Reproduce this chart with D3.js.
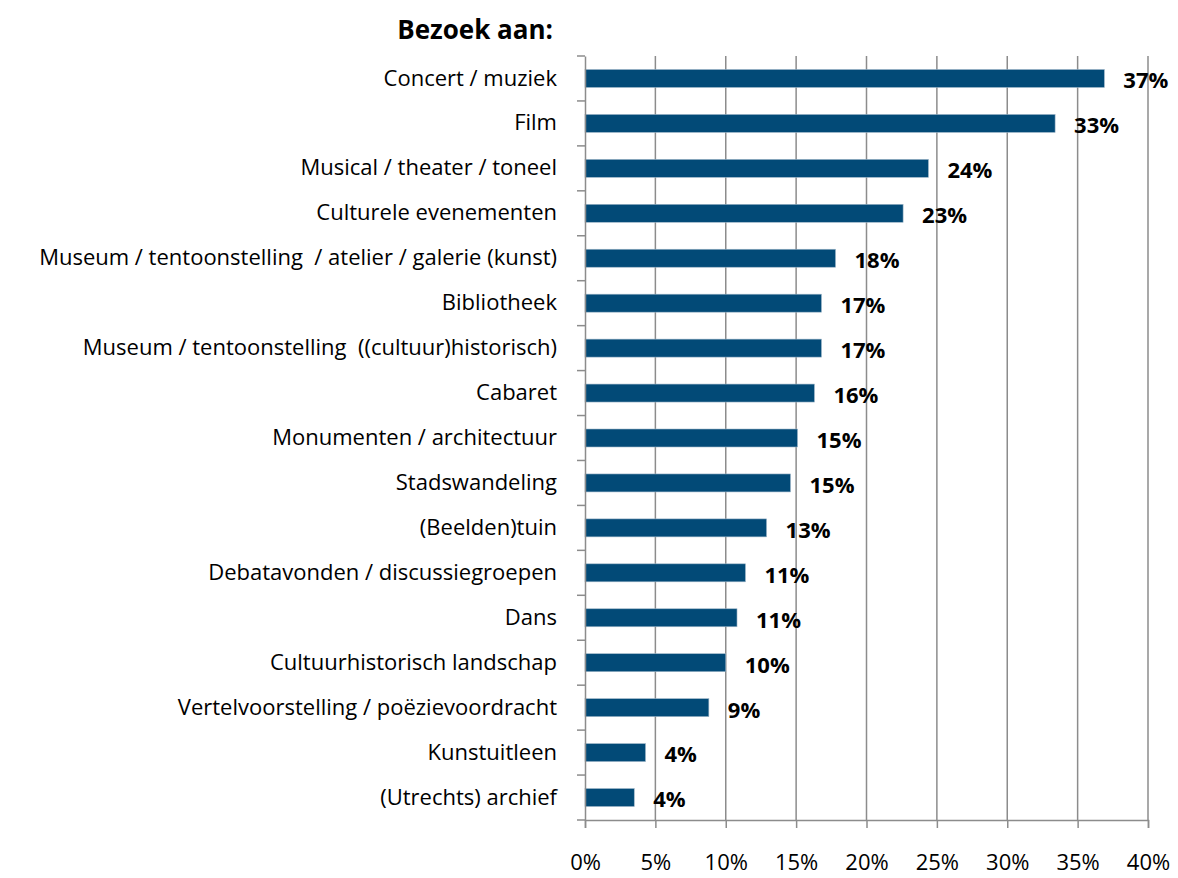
<!DOCTYPE html>
<html>
<head>
<meta charset="utf-8">
<script src="https://d3js.org/d3.v7.min.js"></script>
<style>
  body { margin: 0; background: #fff; }
  text { font-family: "Open Sans", "Noto Sans", sans-serif; }
</style>
</head>
<body>
<div id="chart"></div>
<script>
var categories = ["Concert / muziek", "Film", "Musical / theater / toneel", "Culturele evenementen",
  "Museum / tentoonstelling  / atelier / galerie (kunst)", "Bibliotheek",
  "Museum / tentoonstelling  ((cultuur)historisch)", "Cabaret", "Monumenten / architectuur",
  "Stadswandeling", "(Beelden)tuin", "Debatavonden / discussiegroepen", "Dans",
  "Cultuurhistorisch landschap", "Vertelvoorstelling / poëzievoordracht", "Kunstuitleen",
  "(Utrechts) archief"]
var values = [36.9, 33.4, 24.4, 22.6, 17.8, 16.8, 16.8, 16.3, 15.1, 14.6, 12.9, 11.4, 10.8, 10.0, 8.8, 4.3, 3.5]
var labels = ["37%", "33%", "24%", "23%", "18%", "17%", "17%", "16%", "15%", "15%", "13%", "11%", "11%", "10%", "9%", "4%", "4%"]
var tickValues = [0, 5, 10, 15, 20, 25, 30, 35, 40]

var width = 1178, height = 878
var plotLeft = 585, plotRight = 1148, plotTop = 56, plotBottom = 820

var svg = d3.select("#chart").append("svg")
            .attr("width", width)
            .attr("height", height)

var x = d3.scaleLinear().domain([0, 40]).range([plotLeft, plotRight])
var y = d3.scaleBand().domain(categories).range([plotTop, plotBottom]).paddingInner(0.6).paddingOuter(0.3)

// vertical grid lines
svg.append("g").selectAll("line")
   .data(tickValues.slice(1))
   .join("line")
   .attr("x1", d => x(d)).attr("x2", d => x(d))
   .attr("y1", plotTop).attr("y2", plotBottom)
   .attr("stroke", "#8c8c8c")
   .attr("stroke-width", 1.5)

// bars
svg.append("g").selectAll("rect")
   .data(values)
   .join("rect")
   .attr("x", x(0))
   .attr("y", (d, i) => y(categories[i]))
   .attr("width", d => x(d) - x(0))
   .attr("height", y.bandwidth())
   .attr("fill", "#024a77")
   .attr("stroke", "#9fb6c8")
   .attr("stroke-width", 0.6)

// value labels
svg.append("g").selectAll("text")
   .data(values)
   .join("text")
   .attr("x", d => x(d) + 19)
   .attr("y", (d, i) => y(categories[i]) + y.bandwidth() / 2 + 4)
   .attr("dominant-baseline", "middle")
   .attr("font-size", "22px")
   .attr("font-weight", "bold")
   .attr("fill", "#000")
   .text((d, i) => labels[i])

// x axis
var xAxis = svg.append("g")
   .attr("transform", "translate(0," + plotBottom + ")")
   .call(d3.axisBottom(x).tickValues(tickValues).tickSize(8).tickFormat(d => d + "%"))
xAxis.select(".domain").attr("stroke", "#8c8c8c").attr("stroke-width", 1.5)
xAxis.selectAll(".tick line").attr("stroke", "#8c8c8c").attr("stroke-width", 1.5)
xAxis.selectAll(".tick text")
     .attr("y", 34)
     .attr("font-size", "22px")
     .attr("font-family", "Open Sans, sans-serif")
     .attr("fill", "#000")

// y axis
var yAxis = svg.append("g")
   .attr("transform", "translate(" + plotLeft + ",0)")
   .call(d3.axisLeft(y).tickSize(0).tickPadding(28))
yAxis.select(".domain").attr("stroke", "#8c8c8c").attr("stroke-width", 1.5)
yAxis.selectAll(".tick text")
     .attr("font-size", "22px")
     .attr("font-family", "Open Sans, sans-serif")
     .style("white-space", "pre")
     .attr("fill", "#000")

// category tick marks between bands
var step = (plotBottom - plotTop) / categories.length
svg.append("g").selectAll("line")
   .data(d3.range(categories.length + 1))
   .join("line")
   .attr("x1", plotLeft - 8).attr("x2", plotLeft)
   .attr("y1", i => plotTop + i * step)
   .attr("y2", i => plotTop + i * step)
   .attr("stroke", "#8c8c8c")
   .attr("stroke-width", 1.5)

// title
svg.append("text")
   .attr("x", 553)
   .attr("y", 39)
   .attr("text-anchor", "end")
   .attr("font-size", "26px")
   .attr("font-weight", "bold")
   .text("Bezoek aan:")
</script>
</body>
</html>
